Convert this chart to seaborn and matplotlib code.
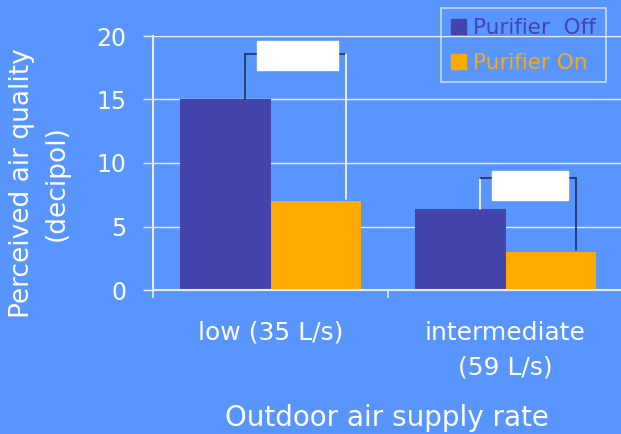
import pandas as pd
import seaborn as sns
import matplotlib.pyplot as plt

# ---------------- Data ----------------
rates = ['low (35 L/s)', 'intermediate\n(59 L/s)']
purifier_off = [15.0, 6.4]
purifier_on = [7.0, 3.0]
series = ['Purifier  Off', 'Purifier On']
yticks = [0, 5, 10, 15, 20]
# bracket annotations (x in category units, y in decipol)
bracket_left = [-0.11, 0.89]
bracket_right = [0.32, 1.30]
bracket_tops = [18.6, 8.8]
box_bottoms = [17.3, 7.1]

bg = '#5895FF'
colors = ['#4444AA', '#FFAA00']
dark = '#1E2E5A'
light = '#E4ECFF'

df = pd.DataFrame({
    'rate': rates * 2,
    'value': purifier_off + purifier_on,
    'state': [series[0]] * 2 + [series[1]] * 2,
})

sns.set_style('white')
plt.rcParams['font.family'] = ['DejaVu Sans']

fig = plt.figure(figsize=(6.21, 4.34), dpi=100, facecolor=bg)
ax = fig.add_axes([153 / 621, 144 / 434, 470 / 621, 254 / 434])
ax.set_facecolor(bg)

sns.barplot(data=df, x='rate', y='value', hue='state', palette=colors,
            width=0.77, gap=0, saturation=1, ax=ax, legend=True,
            linewidth=0, edgecolor='none')

ax.set_ylim(0, 20)
ax.set_xlim(-0.5, 1.5)
ax.set_yticks(yticks)
ax.yaxis.grid(True, color='white', alpha=0.85, lw=1)
ax.set_axisbelow(True)
for s in ['top', 'right']:
    ax.spines[s].set_visible(False)
for s in ['left', 'bottom']:
    ax.spines[s].set_color(light)
    ax.spines[s].set_linewidth(1.5)

ax.tick_params(axis='y', left=True, colors=light, length=7, width=1,
               labelcolor='white', labelsize=17, pad=12)
ax.tick_params(axis='x', which='major', length=0, labelcolor='white',
               labelsize=18, pad=22)
ax.set_xticks([-0.5, 0.5], minor=True)
ax.tick_params(axis='x', which='minor', bottom=True, length=6, width=1.2,
               colors=light)
for t in ax.get_xticklabels():
    t.set_linespacing(1.6)
    t.set_va('top')

ax.set_ylabel('Perceived air quality\n(decipol)', color='white', fontsize=19,
              linespacing=1.45)
ax.yaxis.set_label_coords(-0.177, 0.42)
ax.set_xlabel('Outdoor air supply rate', color='white', fontsize=20)
ax.xaxis.set_label_coords(0.497, -0.45)

# brackets between paired bars
for i, top in enumerate(bracket_tops):
    lx, rx = bracket_left[i], bracket_right[i]
    lcol, rcol = (dark, 'white') if i == 0 else ('white', dark)
    ax.plot([lx, lx], [purifier_off[i], top], color=lcol, lw=1.2, zorder=4)
    ax.plot([lx, rx], [top, top], color=dark, lw=1.2, zorder=4)
    ax.plot([rx, rx], [top, purifier_on[i] + 0.15], color=rcol, lw=1.2, zorder=4)
    ax.add_patch(plt.Rectangle((lx + 0.053, box_bottoms[i]), rx - lx - 0.085, 2.3,
                               color='white', zorder=5))

ax.get_legend().remove()
handles = [plt.Rectangle((0, 0), 1, 1, color=c) for c in colors]
leg = fig.legend(handles, series, loc='upper right',
                 bbox_to_anchor=(606 / 621, 1 - 8 / 434), bbox_transform=fig.transFigure,
                 borderaxespad=0, frameon=True, fontsize=15.5, handlelength=0.7,
                 handleheight=0.7, labelspacing=0.7, borderpad=0.45,
                 handletextpad=0.35)
leg.get_frame().set_facecolor('none')
leg.get_frame().set_edgecolor(light)
leg.get_frame().set_linewidth(1.2)
leg.get_frame().set_boxstyle('square', pad=0)
for txt, c in zip(leg.get_texts(), colors):
    txt.set_color(c)

fig.savefig('out.png', dpi=100, facecolor=bg)
